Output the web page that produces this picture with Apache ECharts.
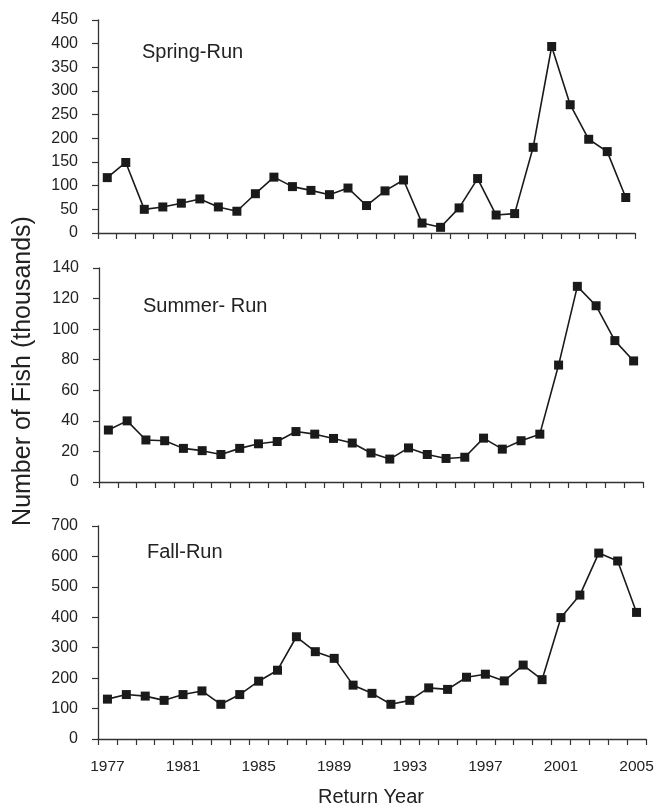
<!DOCTYPE html>
<html>
<head>
<meta charset="utf-8">
<script src="https://cdn.jsdelivr.net/npm/echarts@6/dist/echarts.min.js"></script>
<style>
  html, body { margin: 0; padding: 0; background: #fff; }
  #main { width: 665px; height: 809px; }
</style>
</head>
<body>
<div id="main"></div>
<script>
    var years = ['1977','1978','1979','1980','1981','1982','1983','1984','1985','1986',
                 '1987','1988','1989','1990','1991','1992','1993','1994','1995','1996',
                 '1997','1998','1999','2000','2001','2002','2003','2004','2005'];
    var springRun = [117, 149, 50, 55, 63, 72, 55, 46, 83, 118,
                     98, 90, 81, 95, 58, 89, 112, 21, 12, 53,
                     115, 38, 41, 181, 394, 271, 198, 172, 75];
    var summerRun = [34, 40, 27.5, 27, 22, 20.5, 18, 22, 25, 26.5,
                     33, 31.3, 28.5, 25.5, 19, 15, 22.3, 18, 15.4, 16.2,
                     28.7, 21.5, 27, 31.3, 76.5, 128, 115.3, 92.5, 79.2];
    var fallRun = [131, 146, 141, 127, 146, 158, 114, 146, 190, 226,
                   336, 287, 265, 177, 150, 114, 127, 168, 163, 203,
                   213, 191, 243, 195, 399, 473, 611, 585, 416];
    var panelNames = ['Spring-Run', 'Summer- Run', 'Fall-Run'];

    var font = 'Liberation Sans, Arial, sans-serif';
    var ink = '#222';

    var chart = echarts.init(document.getElementById('main'));

    function xAx(idx, showLabel) {
        return {
            type: 'category',
            gridIndex: idx,
            data: years,
            boundaryGap: true,
            axisLine: { lineStyle: { color: '#333', width: 1.3 } },
            axisTick: { show: true, interval: 0, length: 6, lineStyle: { color: '#333', width: 1.2 } },
            axisLabel: {
                show: showLabel,
                interval: 3,
                margin: 20,
                fontSize: 15.5,
                color: ink,
                fontFamily: font
            },
            splitLine: { show: false }
        };
    }

    function yAx(idx, max, step) {
        return {
            type: 'value',
            gridIndex: idx,
            min: 0,
            max: max,
            interval: step,
            axisLine: { show: true, lineStyle: { color: '#333', width: 1.3 } },
            axisTick: { show: true, length: 6, lineStyle: { color: '#333', width: 1.2 } },
            axisLabel: { fontSize: 16, color: ink, fontFamily: font, margin: 20 },
            splitLine: { show: false }
        };
    }

    function ser(idx, data) {
        return {
            type: 'line',
            xAxisIndex: idx,
            yAxisIndex: idx,
            data: data,
            symbol: 'rect',
            symbolSize: 9,
            lineStyle: { color: '#1a1a1a', width: 1.6 },
            itemStyle: { color: '#1a1a1a' }
        };
    }

    var option = {
        animation: false,
        backgroundColor: '#fff',
        title: [
            { text: panelNames[0], left: 142, top: 42, padding: 0,
              textStyle: { fontSize: 20, fontWeight: 'normal', color: ink, fontFamily: font } },
            { text: panelNames[1], left: 143, top: 296, padding: 0,
              textStyle: { fontSize: 20, fontWeight: 'normal', color: ink, fontFamily: font } },
            { text: panelNames[2], left: 147, top: 542, padding: 0,
              textStyle: { fontSize: 20, fontWeight: 'normal', color: ink, fontFamily: font } }
        ],
        grid: [
            { left: 98, top: 20, width: 537, height: 213 },
            { left: 99, top: 268, width: 544, height: 214 },
            { left: 98, top: 526, width: 548, height: 213 }
        ],
        xAxis: [xAx(0, false), xAx(1, false), xAx(2, true)],
        yAxis: [yAx(0, 450, 50), yAx(1, 140, 20), yAx(2, 700, 100)],
        series: [ser(0, springRun), ser(1, summerRun), ser(2, fallRun)],
        graphic: [
            {
                type: 'text',
                x: 23,
                y: 371,
                rotation: Math.PI / 2,
                style: {
                    text: 'Number of Fish (thousands)',
                    fontSize: 25,
                    fontFamily: font,
                    fill: ink,
                    align: 'center',
                    verticalAlign: 'middle'
                }
            },
            {
                type: 'text',
                x: 371,
                y: 797,
                style: {
                    text: 'Return Year',
                    fontSize: 20,
                    fontFamily: font,
                    fill: ink,
                    align: 'center',
                    verticalAlign: 'middle'
                }
            }
        ]
    };
    chart.setOption(option);
</script>
</body>
</html>
